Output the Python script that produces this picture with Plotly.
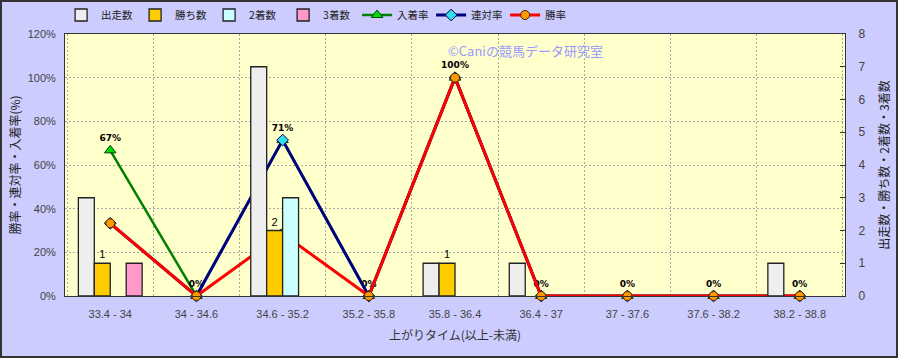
import plotly.graph_objects as go

categories = ["33.4 - 34", "34 - 34.6", "34.6 - 35.2", "35.2 - 35.8", "35.8 - 36.4",
              "36.4 - 37", "37 - 37.6", "37.6 - 38.2", "38.2 - 38.8"]
runs = [3, 0, 7, 0, 1, 1, 0, 0, 1]
wins = [1, 0, 2, 0, 1, 0, 0, 0, 0]
seconds = [0, 0, 3, 0, 0, 0, 0, 0, 0]
thirds = [1, 0, 0, 0, 0, 0, 0, 0, 0]
place_rate = [66.7, 0, 71.4, 0, 100, 0, 0, 0, 0]
quinella_rate = [33.3, 0, 71.4, 0, 100, 0, 0, 0, 0]
win_rate = [33.3, 0, 28.6, 0, 100, 0, 0, 0, 0]
place_labels = ["67%", "0%", "71%", "0%", "100%", "0%", "0%", "0%", "0%"]


def nz(vals):
    return [v if v else None for v in vals]


FONT = "Liberation Sans, Arial, Noto Sans CJK JP"
JP = "Noto Sans CJK JP"
outline = dict(color="#222222", width=1.3)

fig = go.Figure()
fig.add_trace(go.Bar(name="出走数", x=categories, y=nz(runs), yaxis="y2",
                     marker=dict(color="#EEEEEE", line=outline)))
fig.add_trace(go.Bar(name="勝ち数", x=categories, y=nz(wins), yaxis="y2",
                     marker=dict(color="#FFCC00", line=outline),
                     text=[str(v) if v else "" for v in wins], textposition="outside",
                     textfont=dict(size=11, color="#000000", family=FONT), cliponaxis=False))
fig.add_trace(go.Bar(name="2着数", x=categories, y=nz(seconds), yaxis="y2",
                     marker=dict(color="#CCFFFF", line=outline)))
fig.add_trace(go.Bar(name="3着数", x=categories, y=nz(thirds), yaxis="y2",
                     marker=dict(color="#FF99CC", line=outline)))
fig.add_trace(go.Scatter(name="入着率", x=categories, y=place_rate, yaxis="y",
                         mode="lines+markers+text", text=place_labels, textposition="top center",
                         textfont=dict(size=9, color="#000000", family="DejaVu Sans", weight="bold"),
                         line=dict(color="#008000", width=2.5),
                         marker=dict(symbol="triangle-up", size=10, color="#00DD00",
                                     line=dict(color="#004400", width=1)),
                         cliponaxis=False))
fig.add_trace(go.Scatter(name="連対率", x=categories, y=quinella_rate, yaxis="y",
                         mode="lines+markers",
                         line=dict(color="#000080", width=3),
                         marker=dict(symbol="diamond", size=9, color="#33DDEE",
                                     line=dict(color="#000044", width=1)),
                         cliponaxis=False))
fig.add_trace(go.Scatter(name="勝率", x=categories, y=win_rate, yaxis="y",
                         mode="lines+markers",
                         line=dict(color="#FF0000", width=3),
                         marker=dict(symbol="circle", size=9, color="#FF9900",
                                     line=dict(color="#442200", width=1)),
                         cliponaxis=False))

pw, ph = 780, 262
l, r, t, b = 65, 53, 34, 62
GRID = "#A8A8A8"
fig.update_layout(
    width=898, height=358,
    margin=dict(l=l, r=r, t=t, b=b, autoexpand=False),
    paper_bgcolor="#CCCCFF", plot_bgcolor="#FFFFCC",
    font=dict(family=FONT, size=11, color="#333333"),
    barmode="group", bargap=0.26, bargroupgap=0,
    showlegend=True,
    legend=dict(orientation="h", x=-0.005, xanchor="left", y=1 + (34 - 15) / 262, yanchor="middle",
                bgcolor="rgba(0,0,0,0)", font=dict(family=JP, size=10.5, color="#222222"),
                traceorder="normal", itemwidth=30, entrywidthmode="pixels", entrywidth=29,
                tracegroupgap=0),
    xaxis=dict(type="category", tickson="boundaries", showgrid=True, gridcolor=GRID,
               griddash="2px,2px", gridwidth=1, ticks="", showline=True, linecolor="#333333",
               mirror=True, tickfont=dict(size=11, color="#444444"), ticklabelstandoff=8,
               title=dict(text="上がりタイム(以上-未満)", font=dict(family=JP, size=12, color="#333333"),
                          standoff=12)),
    yaxis=dict(range=[0, 120], dtick=20, ticksuffix="%", showgrid=True, gridcolor=GRID,
               griddash="2px,2px", showline=True, linecolor="#333333", ticks="", zeroline=False,
               tickfont=dict(size=11, color="#444444"), ticklabelstandoff=6,
               title=dict(text="勝率・連対率・入着率(%)", font=dict(family=JP, size=12, color="#222222"),
                          standoff=4)),
    yaxis2=dict(range=[0, 8], dtick=1, overlaying="y", side="right", showgrid=False,
                showline=True, linecolor="#333333", ticks="inside", ticklen=5, tickcolor="#333333",
                zeroline=False, tickfont=dict(size=12, color="#444444"), ticklabelstandoff=10,
                title=dict(text="出走数・勝ち数・2着数・3着数", font=dict(family=JP, size=12, color="#222222"),
                           standoff=16)),
    annotations=[dict(text="©Caniの競馬データ研究室", xref="paper", yref="paper",
                      x=(525 - l) / pw, y=1 - (50 - t) / ph, yanchor="middle", showarrow=False,
                      font=dict(family=JP, size=13, color="#9999FF"))],
    shapes=[dict(type="rect", xref="paper", yref="paper",
                 x0=(1 - l) / pw, x1=1 + (r - 1) / pw, y0=-(b - 1) / ph, y1=1 + (t - 1) / ph,
                 line=dict(color="#333333", width=2), fillcolor="rgba(0,0,0,0)", layer="above")],
)

fig.write_html("out.html")
